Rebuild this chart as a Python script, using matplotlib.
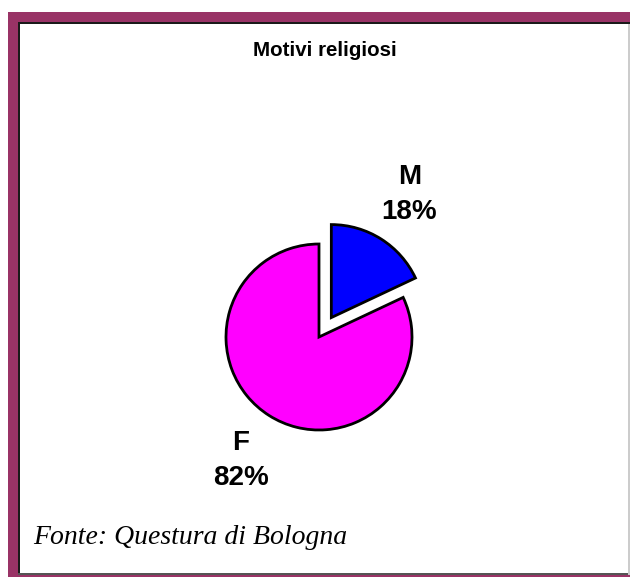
"""Pie chart: Motivi religiosi (M / F)."""

import matplotlib.pyplot as plt
from matplotlib.patches import Rectangle

# data
categories = ["M", "F"]
values = [18, 82]
colors = ["#0000FF", "#FF00FF"]
title = "Motivi religiosi"
source = "Fonte: Questura di Bologna"

W, H = 630, 577

fig = plt.figure(figsize=(W / 100, H / 100), dpi=100)
ax = fig.add_axes([0, 0, 1, 1])
ax.set_xlim(0, W)
ax.set_ylim(0, H)
ax.axis("off")


def img_rect(x0, y0, x1, y1, color):
    """Rectangle given in image pixel coords (y down)."""
    ax.add_patch(Rectangle((x0, H - y1), x1 - x0, y1 - y0, color=color,
                           lw=0, zorder=5))


# frame
maroon = "#993366"
img_rect(8, 12, W, 22, maroon)
img_rect(8, 12, 18, H, maroon)
img_rect(18, 22, W, 24, "#1a1a1a")
img_rect(18, 22, 20, 574, "#1a1a1a")
img_rect(18, 573, W, 575, "#555555")
img_rect(8, 575, W, H, maroon)
img_rect(628, 24, W, 575, "#cccccc")

total = sum(values)
labels = [f"{c}\n{round(v * 100 / total)}%" for c, v in zip(categories, values)]

# explode is in data units (pixels here)
wedges, texts = ax.pie(values, labels=labels, colors=colors,
                       explode=[23, 0], startangle=90, counterclock=False,
                       center=(319, H - 337), radius=93, labeldistance=1.57,
                       wedgeprops=dict(edgecolor="black", linewidth=2.0),
                       textprops=dict(ha="center", va="center",
                                      fontsize=20, fontweight="bold",
                                      family="Liberation Sans",
                                      linespacing=1.45))
ax.set_xlim(0, W)
ax.set_ylim(0, H)
ax.set_aspect("auto")

ax.text(324.5, H - 51, title, ha="center", va="center", fontsize=14.8,
        fontweight="bold", family="Liberation Sans")
ax.text(33, H - 537, source, ha="left", va="center", fontsize=20,
        style="italic", family="Liberation Serif")

plt.savefig("out.png", dpi=100)
plt.close()
